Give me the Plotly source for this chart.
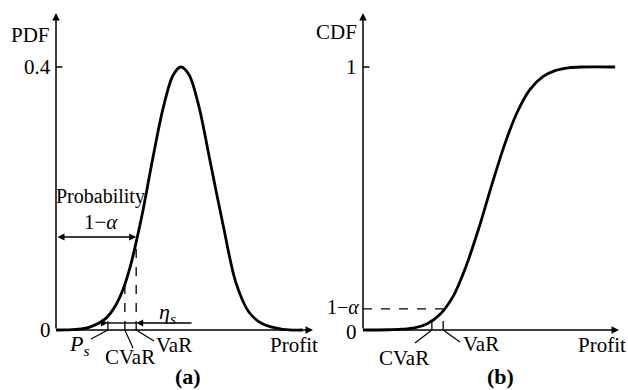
import plotly.graph_objects as go

# ---------------- data ----------------
# Panel (a): PDF of profit (profit in arbitrary units, axis origin = 0)
pdf_x = [0.0, 0.78, 1.28, 1.95, 2.30, 2.61, 2.90, 3.11, 3.39, 3.77, 4.16, 4.55,
         4.86, 5.18, 5.56, 5.99, 6.50, 7.00, 7.51, 8.05, 8.83, 9.60]
pdf_y = [0.000, 0.001, 0.004, 0.018, 0.036, 0.062, 0.098, 0.132, 0.183, 0.262,
         0.336, 0.387, 0.400, 0.388, 0.340, 0.258, 0.160, 0.072, 0.027, 0.009,
         0.001, 0.000]

# Panel (b): CDF of profit
cdf_x = [0.0, 1.0, 1.5, 2.0, 2.5, 3.0, 3.5, 4.0, 4.5, 5.0, 5.5, 6.0, 6.5, 7.0,
         7.5, 8.0, 8.5, 9.81]
cdf_y = [0.000, 0.001, 0.003, 0.008, 0.024, 0.060, 0.127, 0.240, 0.385, 0.548,
         0.702, 0.828, 0.915, 0.963, 0.987, 0.997, 1.000, 1.000]

# risk measures (profit units)
var_x = 3.12
cvar_x = 2.68
ps_x = 2.02
one_minus_alpha = 0.08
pdf_at_var = 0.135
pdf_at_cvar = 0.068
pdf_at_ps = 0.024

# axis ticks
pdf_tick_vals = [0.4]
pdf_tick_text = ["0.4"]
cdf_tick_vals = [1]
cdf_tick_text = ["1"]
axis_len = 10.0

FONT = "Liberation Serif"
FS = 21
BLACK = "black"

# pixel -> data helpers (layout positions only)
def LX(px): return (px - 56) / 25.7
def LY(py): return (330 - py) / 657.5
def RX(px): return (px - 363) / 25.7
def RY(py): return (330 - py) / 263.0

fig = go.Figure()
fig.add_trace(go.Scatter(x=pdf_x, y=pdf_y, mode="lines", xaxis="x", yaxis="y",
                         line=dict(color=BLACK, width=2.8, shape="spline", smoothing=0.9),
                         hoverinfo="skip", showlegend=False))
fig.add_trace(go.Scatter(x=cdf_x, y=cdf_y, mode="lines", xaxis="x2", yaxis="y2",
                         line=dict(color=BLACK, width=2.8, shape="spline", smoothing=0.9),
                         hoverinfo="skip", showlegend=False))

shapes = []
ann = []

def line(xr, yr, x0, y0, x1, y1, dash="solid", w=1.4):
    shapes.append(dict(type="line", xref=xr, yref=yr, x0=x0, y0=y0, x1=x1, y1=y1,
                       line=dict(color=BLACK, width=w, dash=dash)))

def arrow(xr, yr, x, y, ax, ay, side="end", w=1.5, size=1.0, head=2):
    ann.append(dict(xref=xr, yref=yr, axref=xr, ayref=yr, x=x, y=y, ax=ax, ay=ay,
                    text="", showarrow=True, arrowhead=head, arrowsize=size,
                    arrowwidth=w, arrowcolor=BLACK, arrowside=side,
                    startarrowhead=head, startarrowsize=size, standoff=0, startstandoff=0))

def text(xr, yr, x, y, t, xa="center", size=FS, ya="middle"):
    ann.append(dict(xref=xr, yref=yr, x=x, y=y, text=t, showarrow=False,
                    xanchor=xa, yanchor=ya, borderpad=0,
                    font=dict(family=FONT, size=size, color=BLACK)))

# ---------------- panel (a) ----------------
arrow("x", "y", axis_len, 0, 0, 0)                 # x axis
arrow("x", "y", 0, LY(13), 0, 0)                   # y axis
for v, t in zip(pdf_tick_vals, pdf_tick_text):
    line("x", "y", 0, v, 0.25, v, w=1.5)
    text("x", "y", LX(52), v, t, xa="right")
text("x", "y", LX(52), 0, "0", xa="right")
text("x", "y", LX(51), LY(35), "PDF", xa="right")

line("x", "y", var_x, 0, var_x, pdf_at_var, dash="dash", w=1.3)
line("x", "y", cvar_x, 0, cvar_x, pdf_at_cvar, dash="dash", w=1.3)
line("x", "y", ps_x, 0, ps_x, pdf_at_ps, dash="dash", w=1.3)

# probability 1-alpha double arrow
arrow("x", "y", var_x, LY(237), 0, LY(237), side="end+start", w=1.4)
text("x", "y", LX(100), LY(196), "Probability", size=20)
text("x", "y", LX(101), LY(222), "1−<i>α</i>")

# eta_s
arrow("x", "y", var_x, LY(323), LX(193), LY(323), w=1.4)
line("x", "y", ps_x, LY(323), var_x, LY(323), w=1.4)
arrow("x", "y", ps_x, LY(323), LX(99), LY(323), w=1.4)
text("x", "y", LX(167), LY(313), "<i>η<sub>s</sub></i>", size=22)

# leader lines and labels
line("x", "y", ps_x, 0, LX(91), LY(339), w=1.2)
text("x", "y", LX(79), LY(345), "<i>P<sub>s</sub></i>", size=22)
line("x", "y", cvar_x, 0, LX(133), LY(348), w=1.2)
text("x", "y", LX(130), LY(357), "CVaR")
line("x", "y", var_x, 0, LX(154), LY(341), w=1.2)
text("x", "y", LX(174), LY(345), "VaR")
text("x", "y", LX(294), LY(345), "Profit")
text("x", "y", LX(188), LY(390), "<b>(a)</b>", size=22, ya="bottom")

# ---------------- panel (b) ----------------
arrow("x2", "y2", axis_len - 0.04, 0, 0, 0)
arrow("x2", "y2", 0, RY(13), 0, 0)
for v, t in zip(cdf_tick_vals, cdf_tick_text):
    line("x2", "y2", 0, v, 0.25, v, w=1.5)
    text("x2", "y2", RX(358), v, t, xa="right")
text("x2", "y2", RX(358), RY(332), "0", xa="right")
text("x2", "y2", RX(358), RY(32), "CDF", xa="right")
text("x2", "y2", RX(360), RY(307), "1−<i>α</i>", xa="right", size=20)

line("x2", "y2", 0, one_minus_alpha, var_x, one_minus_alpha, dash="dash", w=1.3)
line("x2", "y2", var_x, 0, var_x, one_minus_alpha, dash="dash", w=1.3)
line("x2", "y2", cvar_x, 0, cvar_x, 0.035, dash="dash", w=1.3)

line("x2", "y2", cvar_x, 0, RX(415), RY(343), w=1.2)
text("x2", "y2", RX(404), RY(358), "CVaR")
line("x2", "y2", var_x, 0, RX(460), RY(342), w=1.2)
text("x2", "y2", RX(481), RY(344), "VaR")
text("x2", "y2", RX(602), RY(345), "Profit")
text("x2", "y2", RX(500), RY(390), "<b>(b)</b>", size=22, ya="bottom")

ax_common = dict(visible=False, showgrid=False, zeroline=False, fixedrange=True)
fig.update_layout(
    width=628, height=390, autosize=False,
    margin=dict(l=0, r=0, t=0, b=0),
    paper_bgcolor="white", plot_bgcolor="rgba(0,0,0,0)",
    xaxis=dict(domain=[0, 0.5], range=[LX(0), LX(314)], **ax_common),
    yaxis=dict(domain=[0, 1], range=[LY(390), LY(0)], **ax_common),
    xaxis2=dict(domain=[0.5, 1], range=[RX(314), RX(628)], anchor="y2", **ax_common),
    yaxis2=dict(domain=[0, 1], range=[RY(390), RY(0)], anchor="x2", **ax_common),
    shapes=shapes, annotations=ann, showlegend=False,
)

fig.write_html("out.html", config={"displayModeBar": False},
               post_script="document.body.style.margin='0';document.body.style.overflow='hidden';")
